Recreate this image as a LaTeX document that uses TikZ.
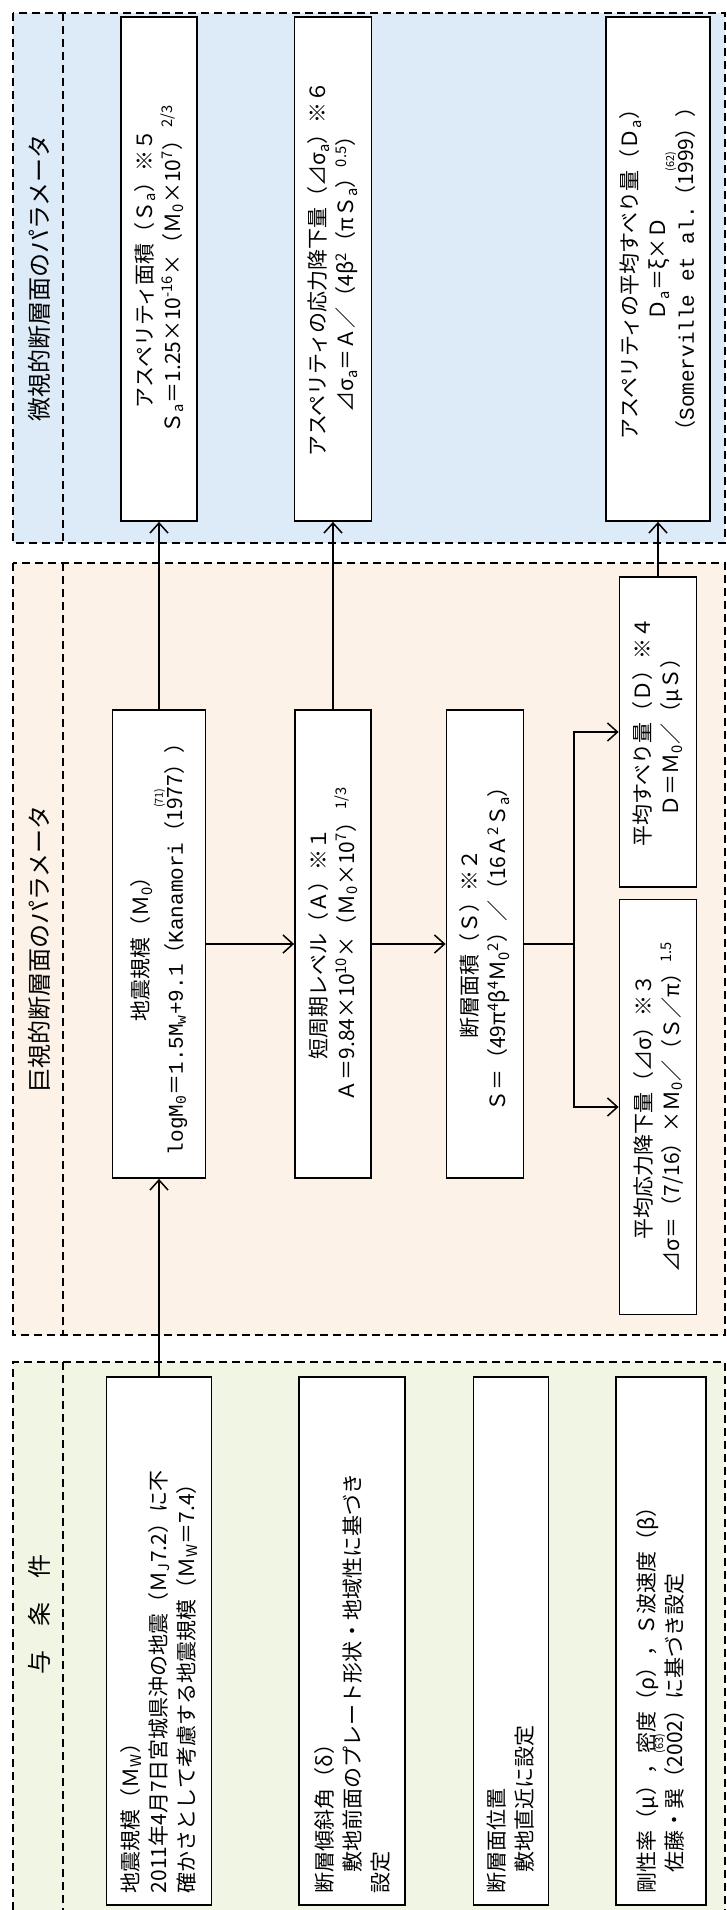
\documentclass[tikz,border=0pt]{standalone}
\usepackage{fontspec}
\setmainfont{Noto Sans CJK JP}
\newfontfamily\mono{Liberation Mono}
\usepackage{tikz}
\usetikzlibrary{arrows.meta,positioning}

\definecolor{microbg}{RGB}{221,234,247}
\definecolor{macrobg}{RGB}{252,242,231}
\definecolor{givenbg}{RGB}{241,246,228}

\newcommand\tsub[1]{\textsubscript{#1}}
\newcommand\tsup[1]{\textsuperscript{#1}}
\newsavebox\refbox
\newcommand\refmark[2]{\sbox\refbox{#1}\rlap{\makebox[\wd\refbox]{\smash{\raisebox{0.95em}{\fontsize{11}{11}\selectfont #2}}}}\usebox\refbox}

\begin{document}
\begin{tikzpicture}[
    x=1pt, y=1pt,
    zone/.style={draw, line width=1.5pt, dash pattern=on 8pt off 5pt},
    head/.style={rotate=90, font=\fontsize{24}{24}\selectfont},
    box/.style={draw, line width=1.8pt, fill=white, rotate=90, inner sep=4pt, font=\fontsize{21}{28}\selectfont, align=center},
    given/.style={box, align=left, inner xsep=10pt, text width=504pt, minimum width=528pt},
    arr/.style={-{Straight Barb[length=10pt,width=18pt]}, line width=1.5pt}
]
    \useasboundingbox (0,0) rectangle (727,-1910);

    % zones
    \fill[microbg] (13,-13) rectangle (725,-543);
    \draw[zone] (13,-13) rectangle (725,-543);
    \draw[zone] (63,-13) -- (63,-543);
    \fill[macrobg] (13,-563) rectangle (725,-1335);
    \draw[zone] (13,-563) rectangle (725,-1335);
    \draw[zone] (63,-563) -- (63,-1335);
    \fill[givenbg] (13,-1362) rectangle (725,-1910);
    \draw[zone] (13,-1910) -- (13,-1362) -- (725,-1362) -- (725,-1910);
    \draw[zone] (63,-1362) -- (63,-1910);

    \node[head] (hmicro) at (39,-278) {微視的断層面のパラメータ};
    \node[head] (hmacro) at (39,-949) {巨視的断層面のパラメータ};
    \node[head] (hgiven) at (39,-1614) {与　条　件};

    % micro
    \node[box, minimum width=504pt, minimum height=76pt] (Sa) at (159,-269)
        {アスペリティ面積（Ｓ\tsub{a}）※５\\Ｓ\tsub{a}＝1.25×10\tsup{-16}×（Ｍ\tsub{0}×10\tsup{7}）\tsup{\,2/3}};
    \node[box, minimum width=504pt, minimum height=77pt] (DSa) at (333,-269)
        {アスペリティの応力降下量（⊿σ\tsub{a}）※６\\⊿σ\tsub{a}＝Ａ／（4β\tsup{2}（πＳ\tsub{a}）\tsup{0.5}）};
    \node[box, minimum width=504pt, minimum height=104pt] (Da) at (658,-269)
        {アスペリティの平均すべり量（Ｄ\tsub{a}）\\Ｄ\tsub{a}＝ξ×Ｄ\\（{\mono Somerville et al.}\refmark{（1999）}{(62)}）};

    % macro
    \node[box, minimum width=468pt, minimum height=93pt] (M0) at (159,-944)
        {地震規模（Ｍ\tsub{0}）\\[6pt]{\mono logM\tsub{0}}＝{\mono 1.5M\tsub{w}+9.1}（{\mono Kanamori}\refmark{（1977）}{(71)}）};
    \node[box, minimum width=468pt, minimum height=76pt] (A) at (333,-944)
        {短周期レベル（Ａ）※１\\Ａ＝9.84×10\tsup{10}×（Ｍ\tsub{0}×10\tsup{7}）\tsup{\,1/3}};
    \node[box, minimum width=468pt, minimum height=77pt] (S) at (485,-944)
        {断層面積（Ｓ）※２\\Ｓ＝（49π\tsup{4}β\tsup{4}Ｍ\tsub{0}\tsup{2}）／（16Ａ\tsup{2}Ｓ\tsub{a}）};
    \node[box, minimum width=310pt, minimum height=77pt] (D) at (658,-732)
        {平均すべり量（Ｄ）※４\\Ｄ＝Ｍ\tsub{0}／（μＳ）};
    \node[box, minimum width=415pt, minimum height=77pt] (Ds) at (658,-1107)
        {平均応力降下量（⊿σ）※３\\⊿σ＝（7/16）×Ｍ\tsub{0}／（Ｓ／π）\tsup{1.5}};

    % given
    \node[given, minimum height=105pt] (G1) at (159,-1641)
        {地震規模（Ｍ\tsub{W}）\\2011年4月7日宮城県沖の地震（Ｍ\tsub{J}7.2）に不\\確かさとして考慮する地震規模（Ｍ\tsub{W}＝7.4）};
    \node[given, minimum height=106pt] (G2) at (352,-1641)
        {断層傾斜角（δ）\\　敷地前面のプレート形状・地域性に基づき\\設定};
    \node[given, minimum height=75pt] (G3) at (511,-1641)
        {断層面位置\\　敷地直近に設定};
    \node[given, minimum height=90pt] (G4) at (661,-1641)
        {剛性率（μ），密度（ρ），Ｓ波速度（β）\\　佐藤・巽\refmark{（2002）}{(63)}に基づき設定};

    % arrows
    \draw[arr] (G1) -- (M0);
    \draw[arr] (M0) -- (Sa);
    \draw[arr] (A) -- (DSa);
    \draw[arr] (D) -- (Da);
    \draw[arr] (M0) -- (A);
    \draw[arr] (A) -- (S);
    \coordinate (J) at (574,-944);
    \draw[line width=1.5pt] (S) -- (J);
    \draw[arr] (J) |- (D);
    \draw[arr] (J) |- (Ds);
\end{tikzpicture}
\end{document}
